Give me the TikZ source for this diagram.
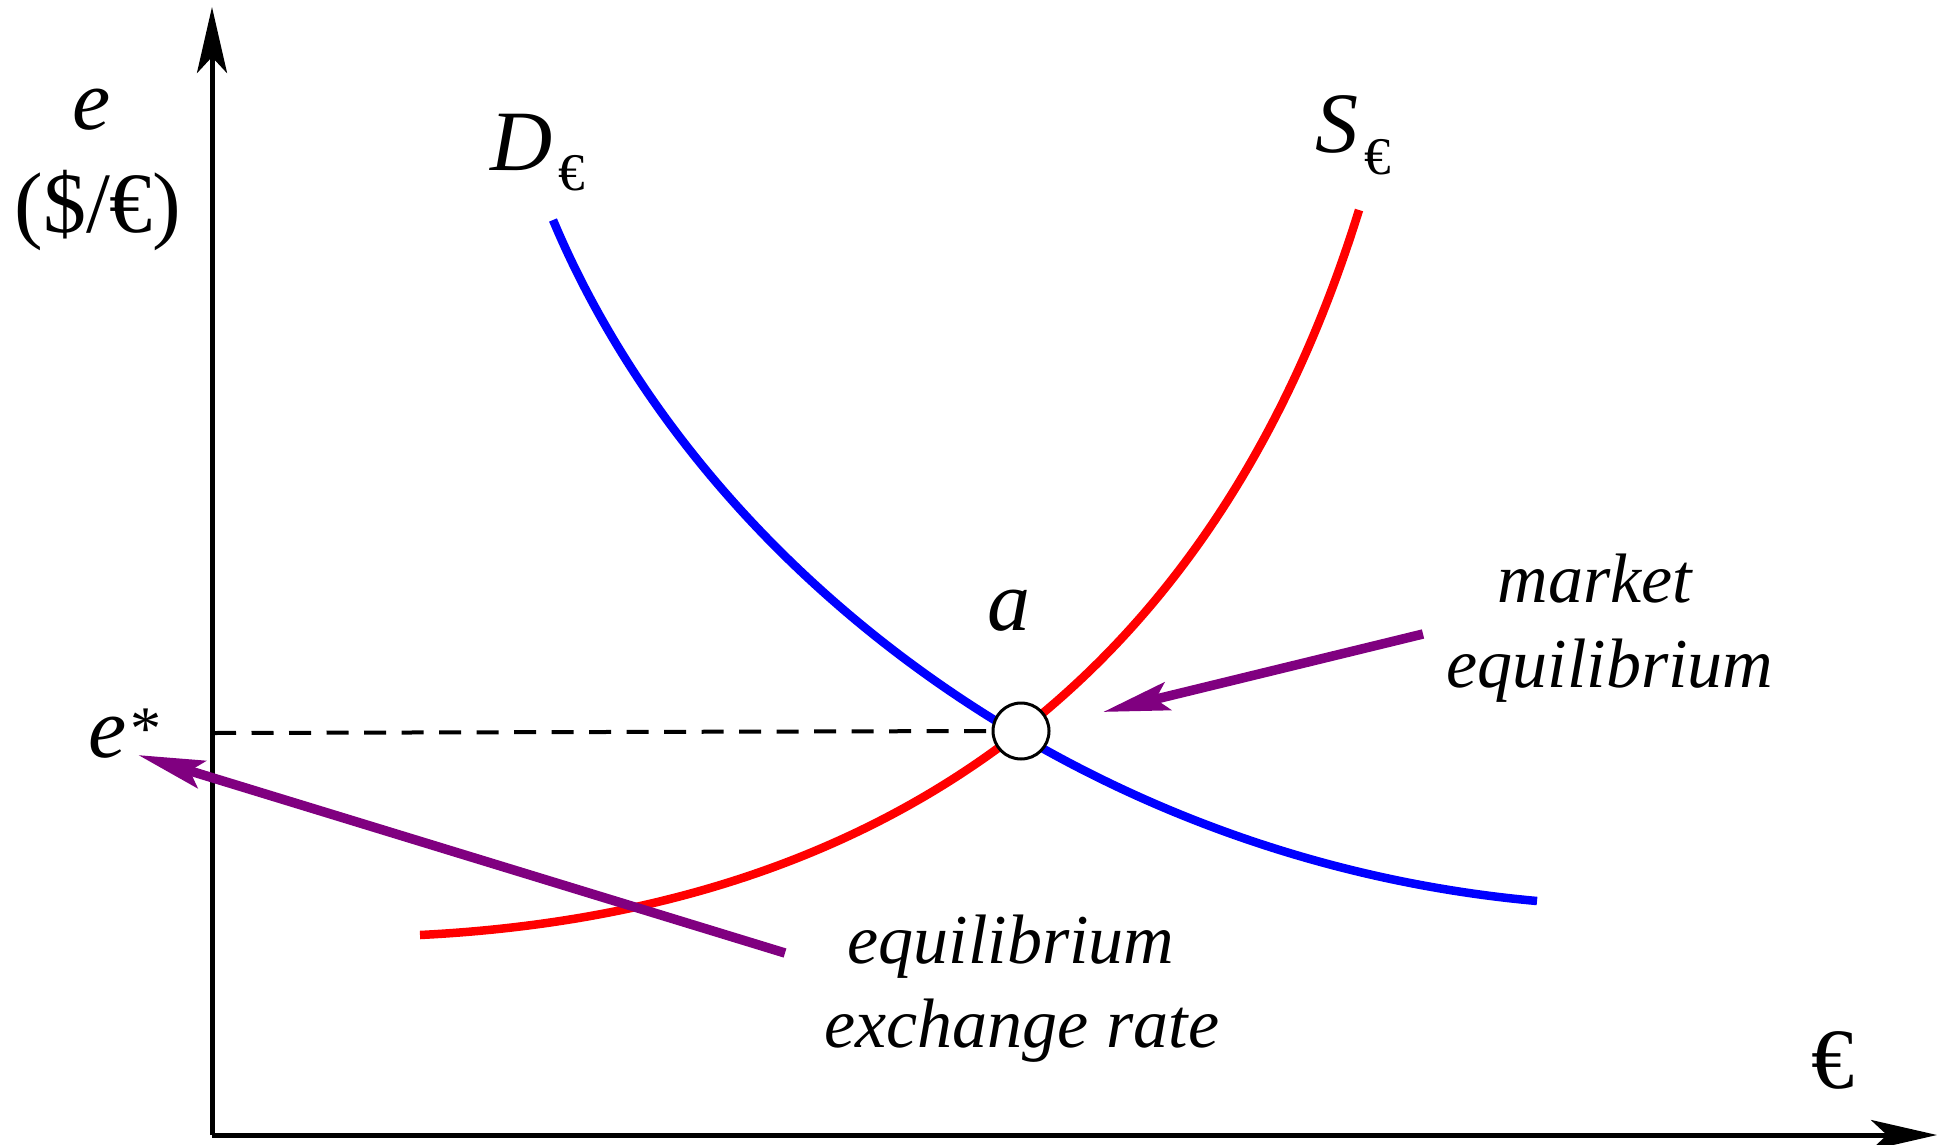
\documentclass[tikz,border=0pt]{standalone}
\usepackage{fontspec}
\setmainfont{Liberation Serif}
\usetikzlibrary{arrows.meta}
\definecolor{eqpurple}{RGB}{128,0,128}
\begin{document}
\begin{tikzpicture}[x=1pt,y=-1pt,
  axisline/.style={line width=5pt, -{Stealth[length=66pt,width=30pt,inset=16pt]}},
  curveD/.style={blue, line width=8.5pt},
  curveS/.style={red, line width=8.5pt},
  pointer/.style={draw=eqpurple, line width=9.5pt, -{Stealth[length=66pt,width=28pt,inset=12pt]}},
  guide/.style={line width=4pt, dash pattern=on 22pt off 15.5pt},
  biglabel/.style={inner sep=0pt, font=\fontsize{86}{100}\selectfont},
  note/.style={inner sep=0pt, font=\fontsize{70}{85}\selectfont\itshape},
]
\useasboundingbox (0,0) rectangle (1937,1145);

% axes
\coordinate (O) at (212,1135);
\coordinate (ytop) at (212,7);
\coordinate (xend) at (1937,1135);
\draw[axisline] (O) -- (ytop);
\draw[axisline] (O) -- (xend);

% curves
\coordinate (Dstart) at (553,220);
\coordinate (Dend) at (1537,901);
\coordinate (Sstart) at (420,935);
\coordinate (Send) at (1359,210);
\draw[curveD] (Dstart) .. controls (700,570) and (1080,860) .. (Dend);
\draw[curveS] (Sstart) .. controls (1040,904) and (1266,510) .. (Send);

% equilibrium point and guide
\coordinate (estar) at (214,733);
\node[circle, draw, line width=3pt, fill=white, minimum size=56pt, inner sep=0pt] (eq) at (1021,731) {};
\draw[guide] (estar) -- (eq.west);

% labels
\node[biglabel, anchor=base] (ylab1) at (92,130) {\itshape e};
\node[biglabel, anchor=base] (ylab2) at (98,232) {(\$/€)};
\node[biglabel, anchor=base west] (estarlab) at (88,757) {\itshape e\upshape\hspace{4pt}\raisebox{8pt}{\fontsize{62}{70}\selectfont *}};
\node[biglabel, anchor=base] (alab) at (1009,630) {\itshape a};
\node[biglabel, anchor=base west] (Dlab) at (490,170) {\itshape D\upshape\hspace{6pt}\raisebox{-20pt}{\fontsize{53}{60}\selectfont €}};
\node[biglabel, anchor=base west] (Slab) at (1315,152) {\itshape S\upshape\hspace{6pt}\raisebox{-22pt}{\fontsize{53}{60}\selectfont €}};
\node[biglabel, anchor=base] (xlab) at (1833,1088) {€};

\node[note, anchor=base] (mkt1) at (1595,602) {market};
\node[note, anchor=base] (mkt2) at (1610,687) {equilibrium};
\node[note, anchor=base] (eqr1) at (1011,963) {equilibrium};
\node[note, anchor=base] (eqr2) at (1022,1047) {exchange rate};

% pointers
\coordinate (p1s) at (785,953);
\coordinate (p1e) at (138,755);
\coordinate (p2s) at (1423,634);
\coordinate (p2e) at (1103,712);
\draw[pointer] (p1s) -- (p1e);
\draw[pointer] (p2s) -- (p2e);
\end{tikzpicture}
\end{document}
